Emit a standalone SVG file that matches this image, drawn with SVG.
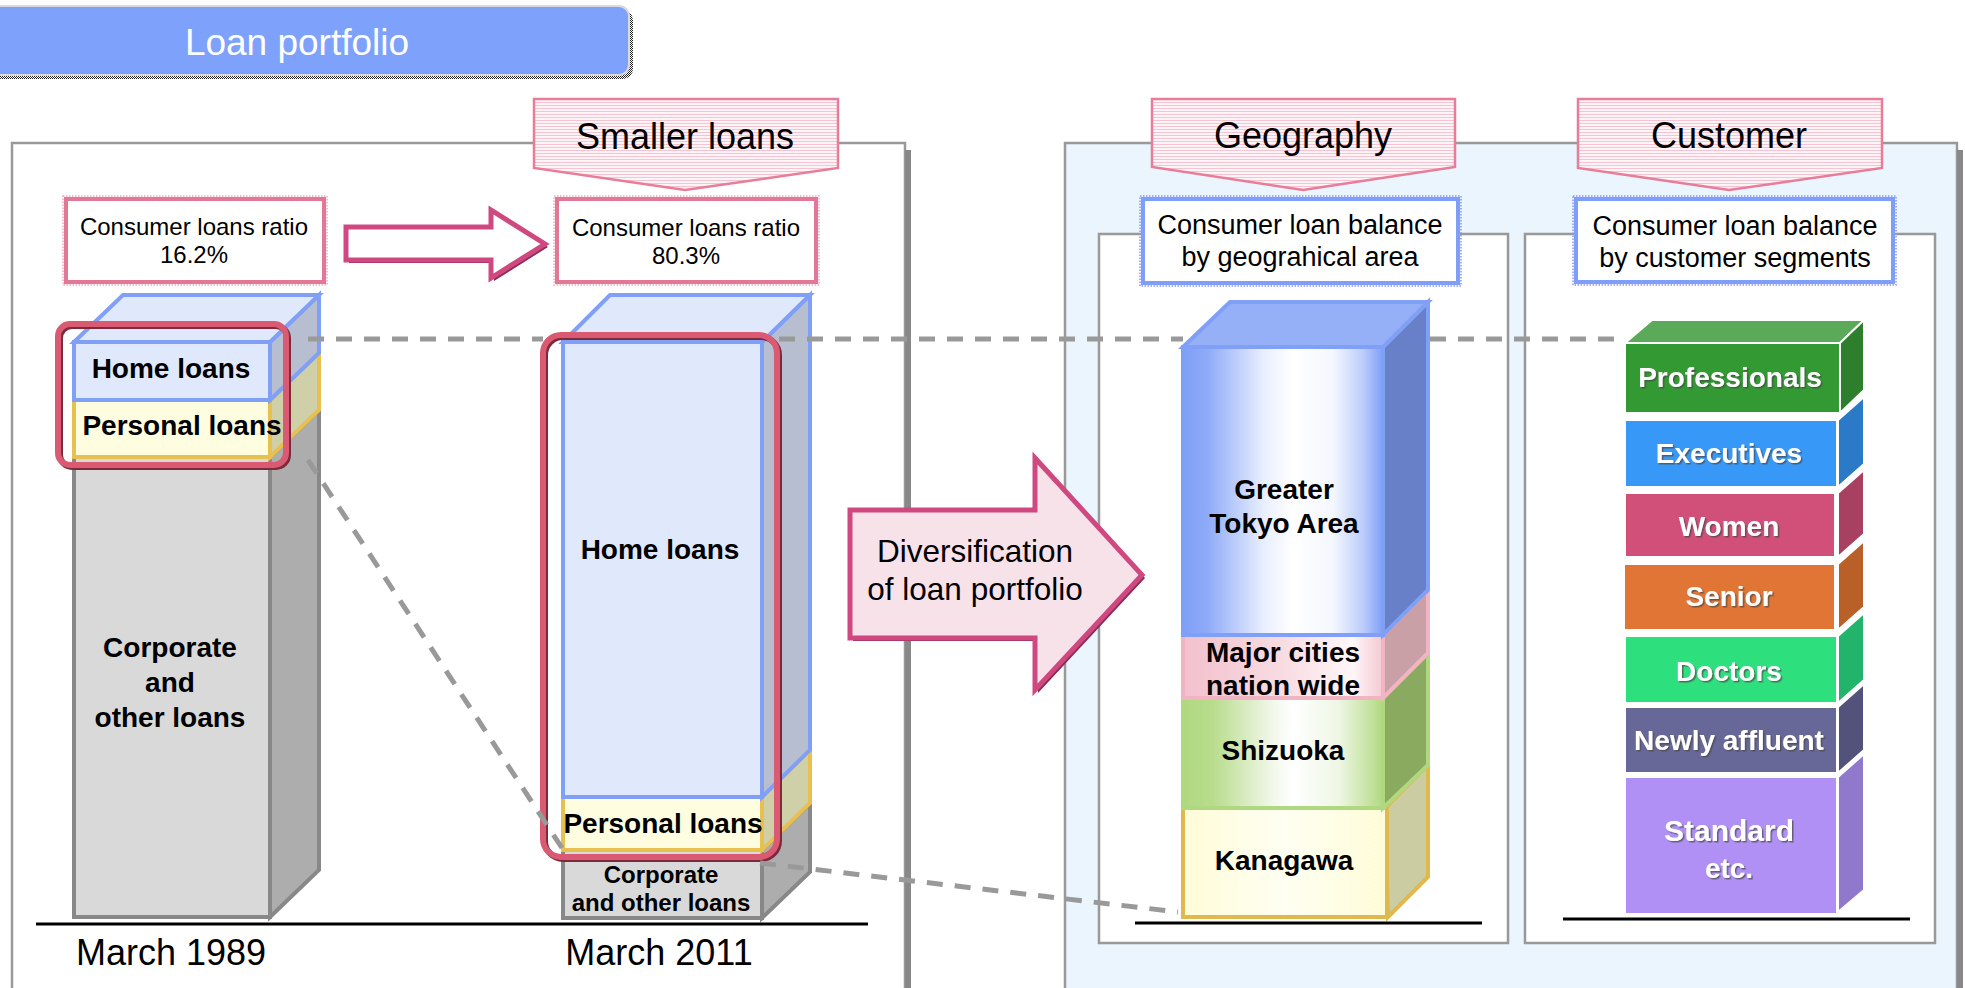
<svg xmlns="http://www.w3.org/2000/svg" width="1965" height="988" viewBox="0 0 1965 988">
  <defs>
    <style>
      .t { font-family: "Liberation Sans", Arial, sans-serif; fill: #000; text-anchor: middle; }
      .b { font-weight: bold; }
      .w { fill: #fff; font-weight: bold; filter: url(#txtShadow); }
      .panel { fill: #fff; stroke: #999; stroke-width: 2.5; }
      .pent { fill: url(#stripes); stroke: #e77d98; stroke-width: 2.5; }
      .lblP { fill: #fff; stroke: #e07896; stroke-width: 4; }
      .lblB { fill: #fff; stroke: #7f9ef8; stroke-width: 4; }
      .dotP { fill: none; stroke: #f2a6c6; stroke-width: 1.5; stroke-dasharray: 1.5 1.5; }
      .dotB { fill: none; stroke: #8c94f8; stroke-width: 1.5; stroke-dasharray: 1.5 1.5; }
      .dash { fill: none; stroke: #999; stroke-width: 5; stroke-dasharray: 16 12; }
      .axis { stroke: #000; stroke-width: 3; }
      .hiShadow { fill: none; stroke: #7c2a3c; stroke-width: 6; }
      .hi { fill: none; stroke: #da5a72; stroke-width: 6; }
      .homeF { fill: #e0e8fc; stroke: #80a0f8; stroke-width: 4; }
      .homeS { fill: #b6bed0; stroke: #80a0f8; stroke-width: 4; }
      .persF { fill: #fffde0; stroke: #e8c050; stroke-width: 4; }
      .persS { fill: #cfd0a8; stroke: #e8c050; stroke-width: 4; }
      .corpF { fill: #d9d9d9; stroke: #888; stroke-width: 4; }
      .corpS { fill: #adadad; stroke: #888; stroke-width: 4; }
      .seg { stroke: #fff; stroke-width: 2; }
    </style>
    <pattern id="stripes" width="6" height="3" patternUnits="userSpaceOnUse">
      <rect width="6" height="3" fill="#fff4f7"/>
      <rect width="6" height="1" fill="#f7c3d1"/>
    </pattern>
    <pattern id="checker" width="2" height="2" patternUnits="userSpaceOnUse">
      <rect width="2" height="2" fill="#fff"/>
      <rect width="1" height="1" fill="#222"/>
      <rect x="1" y="1" width="1" height="1" fill="#222"/>
    </pattern>
    <linearGradient id="gBlue" x1="0" y1="0" x2="1" y2="0">
      <stop offset="0" stop-color="#7f9ff8"/>
      <stop offset="0.12" stop-color="#8eaaf8"/>
      <stop offset="0.4" stop-color="#e8eefe"/>
      <stop offset="0.55" stop-color="#ffffff"/>
      <stop offset="0.75" stop-color="#f4f7fe"/>
      <stop offset="0.9" stop-color="#bccdfb"/>
      <stop offset="1" stop-color="#7f9ff8"/>
    </linearGradient>
    <linearGradient id="gPink" x1="0" y1="0" x2="1" y2="0">
      <stop offset="0" stop-color="#f2c0cc"/>
      <stop offset="0.5" stop-color="#f8dce2"/>
      <stop offset="0.85" stop-color="#fff6f8"/>
      <stop offset="1" stop-color="#f4c8d2"/>
    </linearGradient>
    <linearGradient id="gGreen" x1="0" y1="0" x2="1" y2="0">
      <stop offset="0" stop-color="#b0d880"/>
      <stop offset="0.15" stop-color="#b8dc8c"/>
      <stop offset="0.45" stop-color="#f2f8ea"/>
      <stop offset="0.55" stop-color="#ffffff"/>
      <stop offset="0.78" stop-color="#eef6e4"/>
      <stop offset="0.95" stop-color="#c0e098"/>
      <stop offset="1" stop-color="#b0d880"/>
    </linearGradient>
    <linearGradient id="gYellow" x1="0" y1="0" x2="1" y2="0">
      <stop offset="0" stop-color="#fffcd8"/>
      <stop offset="0.5" stop-color="#fffff2"/>
      <stop offset="1" stop-color="#fffcd8"/>
    </linearGradient>
    <filter id="txtShadow" x="-10%" y="-20%" width="120%" height="150%">
      <feDropShadow dx="1.5" dy="1.5" stdDeviation="0.6" flood-color="#444" flood-opacity="0.7"/>
    </filter>
  </defs>

  <rect width="1965" height="988" fill="#fff"/>

  <!-- title bar -->
  <g id="title">
    <rect x="-8" y="10" width="641" height="69" rx="10" fill="url(#checker)"/>
    <rect x="-12" y="6" width="641" height="69" rx="10" fill="#7ea2fb" stroke="#dadada" stroke-width="2"/>
    <text class="t" x="297" y="55" font-size="37" style="fill:#fff">Loan portfolio</text>
  </g>

  <!-- background panels -->
  <g id="panel-left">
    <rect x="12" y="143" width="893" height="860" class="panel"/>
    <rect x="905" y="150" width="6" height="850" fill="#888"/>
  </g>
  <g id="panel-right">
    <rect x="1065" y="143" width="892" height="860" fill="#eaf5fd" stroke="#999" stroke-width="2.5"/>
    <rect x="1957" y="150" width="6" height="850" fill="#888"/>
    <rect x="1099" y="234" width="409" height="709" class="panel"/>
    <rect x="1525" y="234" width="410" height="709" class="panel"/>
  </g>

  <!-- header callouts -->
  <g id="callout-smaller">
    <path class="pent" d="M534,99 H838 V168 L685,190 L534,168 Z"/>
    <text class="t" x="685" y="149" font-size="36">Smaller loans</text>
  </g>
  <g id="callout-geography">
    <path class="pent" d="M1152,99 H1455 V167 L1303,190 L1152,167 Z"/>
    <text class="t" x="1303" y="148" font-size="36">Geography</text>
  </g>
  <g id="callout-customer">
    <path class="pent" d="M1578,99 H1882 V168 L1729,190 L1578,168 Z"/>
    <text class="t" x="1729" y="148" font-size="36">Customer</text>
  </g>

  <!-- label boxes -->
  <g id="ratio-1989">
    <rect class="dotP" x="63" y="196" width="264" height="89"/>
    <rect class="lblP" x="66" y="199" width="258" height="83"/>
    <text class="t" x="194" y="235" font-size="24">Consumer loans ratio</text>
    <text class="t" x="194" y="263" font-size="24">16.2%</text>
  </g>
  <g id="ratio-2011">
    <rect class="dotP" x="554" y="196" width="265" height="89"/>
    <rect class="lblP" x="557" y="199" width="259" height="83"/>
    <text class="t" x="686" y="236" font-size="24">Consumer loans ratio</text>
    <text class="t" x="686" y="264" font-size="24">80.3%</text>
  </g>
  <g id="balance-geo">
    <rect class="dotB" x="1140" y="196" width="321" height="90"/>
    <rect class="lblB" x="1143" y="199" width="315" height="84"/>
    <text class="t" x="1300" y="234" font-size="27">Consumer loan balance</text>
    <text class="t" x="1300" y="266" font-size="27">by geograhical area</text>
  </g>
  <g id="balance-cust">
    <rect class="dotB" x="1573" y="196" width="323" height="89"/>
    <rect class="lblB" x="1576" y="199" width="317" height="83"/>
    <text class="t" x="1735" y="235" font-size="27">Consumer loan balance</text>
    <text class="t" x="1735" y="267" font-size="27">by customer segments</text>
  </g>

  <!-- arrow between ratios -->
  <g id="arrow-ratio">
    <polygon points="349,230 494,230 494,213 548,247 494,281 494,263 349,263" fill="#8a2a55"/>
    <polygon points="346,227 491,227 491,210 545,244 491,278 491,260 346,260" fill="#fff" stroke="#d04880" stroke-width="5" stroke-linejoin="miter"/>
  </g>

  <!-- bar: March 1989 -->
  <g id="bar-1989">
    <polygon class="corpS" points="270,457 319,410 319,870 270,917"/>
    <rect class="corpF" x="74" y="457" width="196" height="460"/>
    <polygon class="persS" points="270,400 319,353 319,410 270,457"/>
    <rect class="persF" x="74" y="400" width="196" height="57"/>
    <polygon class="homeS" points="270,342 319,295 319,353 270,400"/>
    <polygon class="homeF" points="74,342 123,295 319,295 270,342"/>
    <rect class="homeF" x="74" y="342" width="196" height="58"/>
    <text class="t b" x="171" y="378" font-size="28">Home loans</text>
    <text class="t b" x="182" y="435" font-size="28">Personal loans</text>
    <text class="t b" x="170" y="657" font-size="28">Corporate</text>
    <text class="t b" x="170" y="692" font-size="28">and</text>
    <text class="t b" x="170" y="727" font-size="28">other loans</text>
    <rect class="hiShadow" x="60" y="326" width="228" height="141" rx="12"/>
    <rect class="hi" x="58" y="324" width="228" height="141" rx="12"/>
  </g>

  <!-- bar: March 2011 -->
  <g id="bar-2011">
    <polygon class="corpS" points="762,850 810,803 810,872 762,918"/>
    <rect class="corpF" x="563" y="850" width="199" height="68"/>
    <polygon class="persS" points="762,797 810,750 810,803 762,850"/>
    <rect class="persF" x="563" y="797" width="199" height="53"/>
    <polygon class="homeS" points="762,342 810,295 810,750 762,797"/>
    <polygon class="homeF" points="563,342 610,295 810,295 762,342"/>
    <rect class="homeF" x="563" y="342" width="199" height="455"/>
    <text class="t b" x="660" y="559" font-size="28">Home loans</text>
    <text class="t b" x="663" y="833" font-size="28">Personal loans</text>
    <text class="t b" x="661" y="883" font-size="24">Corporate</text>
    <text class="t b" x="661" y="911" font-size="24">and other loans</text>
    <rect class="hiShadow" x="545" y="337" width="234" height="522" rx="18"/>
    <rect class="hi" x="543" y="335" width="234" height="522" rx="18"/>
  </g>

  <!-- bar: geography -->
  <g id="bar-geo">
    <polygon points="1385,808 1428,765 1428,877 1388,917" fill="#cccca2" stroke="#e0b850" stroke-width="4"/>
    <rect x="1183" y="808" width="204" height="109" fill="url(#gYellow)" stroke="#e0b850" stroke-width="4"/>
    <polygon points="1383,698 1428,653 1428,765 1383,808" fill="#8aaa60" stroke="#b0d880" stroke-width="4"/>
    <rect x="1183" y="698" width="200" height="110" fill="url(#gGreen)" stroke="#b0d880" stroke-width="4"/>
    <polygon points="1383,635 1428,590 1428,653 1383,698" fill="#c8a0a6" stroke="#f0b4c2" stroke-width="4"/>
    <rect x="1183" y="635" width="200" height="63" fill="url(#gPink)" stroke="#f0b4c2" stroke-width="4"/>
    <polygon points="1383,347 1428,302 1428,590 1383,635" fill="#6880c8" stroke="#80a0f8" stroke-width="4"/>
    <polygon points="1183,347 1230,302 1428,302 1383,347" fill="#96b0f8" stroke="#80a0f8" stroke-width="4"/>
    <rect x="1183" y="347" width="200" height="288" fill="url(#gBlue)" stroke="#80a0f8" stroke-width="4"/>
    <text class="t b" x="1284" y="499" font-size="28">Greater</text>
    <text class="t b" x="1284" y="533" font-size="28">Tokyo Area</text>
    <text class="t b" x="1283" y="662" font-size="28">Major cities</text>
    <text class="t b" x="1283" y="695" font-size="28">nation wide</text>
    <text class="t b" x="1283" y="760" font-size="28">Shizuoka</text>
    <text class="t b" x="1284" y="870" font-size="28">Kanagawa</text>
  </g>

  <!-- bar: customer segments -->
  <g id="bar-cust">
    <polygon class="seg" points="1625,343 1652,320 1864,320 1840,343" fill="#5aaa5a"/>
    <polygon class="seg" points="1840,343 1864,320 1864,390 1840,413" fill="#2d7e2d"/>
    <rect class="seg" x="1625" y="343" width="215" height="70" fill="#339933"/>
    <polygon class="seg" points="1838,420 1864,397 1864,464 1838,487" fill="#2a7ac8"/>
    <rect class="seg" x="1625" y="420" width="212" height="67" fill="#3898f8"/>
    <polygon class="seg" points="1838,493 1864,470 1864,534 1838,557" fill="#a84062"/>
    <rect class="seg" x="1625" y="493" width="210" height="64" fill="#d0507a"/>
    <polygon class="seg" points="1838,564 1864,541 1864,607 1838,630" fill="#b86028"/>
    <rect class="seg" x="1624" y="564" width="211" height="66" fill="#e07535"/>
    <polygon class="seg" points="1838,636 1864,613 1864,680 1838,703" fill="#22b46a"/>
    <rect class="seg" x="1625" y="636" width="212" height="67" fill="#2edf7e"/>
    <polygon class="seg" points="1838,707 1864,684 1864,750 1838,773" fill="#52527a"/>
    <rect class="seg" x="1625" y="707" width="212" height="66" fill="#686898"/>
    <polygon class="seg" points="1838,777 1864,754 1864,890 1838,912" fill="#9078cc"/>
    <rect class="seg" x="1625" y="777" width="212" height="137" fill="#b090f4"/>
    <text class="t w" x="1730" y="387" font-size="28">Professionals</text>
    <text class="t w" x="1729" y="463" font-size="28">Executives</text>
    <text class="t w" x="1729" y="536" font-size="28">Women</text>
    <text class="t w" x="1729" y="606" font-size="28">Senior</text>
    <text class="t w" x="1729" y="681" font-size="28">Doctors</text>
    <text class="t w" x="1729" y="750" font-size="28">Newly affluent</text>
    <text class="t w" x="1729" y="841" font-size="30">Standard</text>
    <text class="t w" x="1729" y="878" font-size="28">etc.</text>
  </g>

  <!-- baselines and dates -->
  <g id="axes">
    <line class="axis" x1="36" y1="924" x2="868" y2="924"/>
    <line class="axis" x1="1135" y1="923" x2="1482" y2="923"/>
    <line class="axis" x1="1563" y1="919" x2="1910" y2="919"/>
    <text class="t" x="171" y="965" font-size="36">March 1989</text>
    <text class="t" x="659" y="965" font-size="36">March 2011</text>
  </g>

  <!-- diversification arrow -->
  <g id="arrow-diversification">
    <polygon points="853,513 1038,513 1038,461 1145,578 1038,693 1038,641 853,641" fill="#8a2a55"/>
    <polygon points="850,510 1035,510 1035,458 1142,575 1035,690 1035,638 850,638" fill="#f8e2ea" stroke="#d04880" stroke-width="5"/>
    <text class="t" x="975" y="562" font-size="31.5">Diversification</text>
    <text class="t" x="975" y="600" font-size="31.5">of loan portfolio</text>
  </g>

  <!-- dashed guide lines -->
  <g id="connectors">
    <line class="dash" x1="308" y1="339" x2="543" y2="339"/>
    <line class="dash" x1="779" y1="339" x2="1183" y2="339"/>
    <line class="dash" x1="1430" y1="339" x2="1625" y2="339"/>
    <line class="dash" x1="308" y1="460" x2="562" y2="848"/>
    <line class="dash" x1="760" y1="863" x2="1178" y2="912"/>
  </g>
</svg>
